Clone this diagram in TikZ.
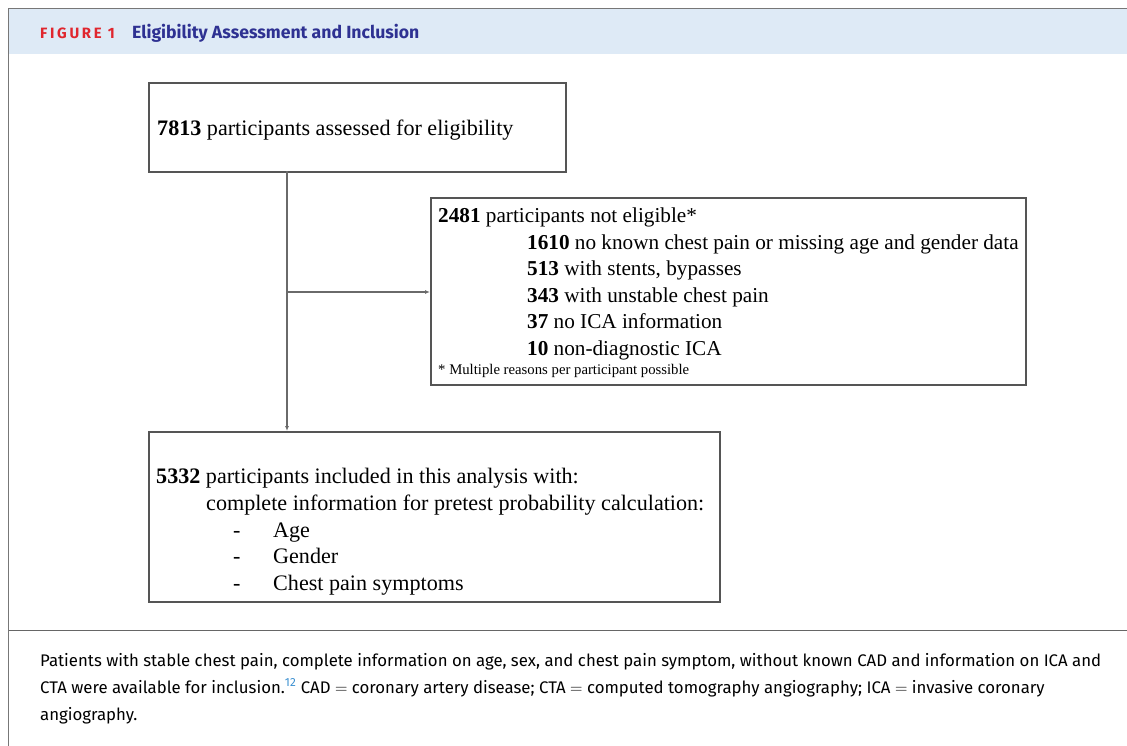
\documentclass[tikz,border=0pt]{standalone}
\usepackage{fontspec}
\setmainfont{Liberation Serif}
\newfontfamily\capfont{Fira Sans}
\newfontfamily\figfont{Fira Sans}[LetterSpace=18.0]
\usetikzlibrary{arrows.meta}
\definecolor{hdrbg}{HTML}{DEEAF6}
\definecolor{figred}{HTML}{E0262E}
\definecolor{figblue}{HTML}{2E3192}
\definecolor{boxline}{HTML}{555555}
\definecolor{conn}{HTML}{6A6A6A}
\definecolor{refblue}{HTML}{3A8FD0}
\tikzset{
  flowbox/.style={draw=boxline, line width=1.6bp, inner sep=0pt},
  txt/.style={anchor=base west, inner sep=0pt, font=\fontsize{22.2}{26}\selectfont},
  txtb/.style={anchor=base west, inner sep=0pt, font=\fontsize{21.3}{25}\selectfont},
  foot/.style={anchor=base west, inner sep=0pt, font=\fontsize{14.8}{17}\selectfont},
  captxt/.style={anchor=base west, inner sep=0pt, font=\capfont\fontsize{16.85}{20}\selectfont},
  link/.style={draw=conn, line width=1.3bp, -{Latex[length=5bp,width=4bp]}},
}
\begin{document}
\begin{tikzpicture}[x=1bp,y=-1bp]
\useasboundingbox (0,0) rectangle (1127,746);
% header band and frame
\fill[hdrbg] (9,9) rectangle (1127,54);
\draw[draw=boxline!80, line width=1.4bp] (8.5,746) -- (8.5,8.5) -- (1127,8.5);
\draw[draw=boxline!90, line width=1bp] (8.5,630.5) -- (1127,630.5);
\node[anchor=base west, inner sep=0pt, text=figred, font=\figfont\bfseries\fontsize{15}{18}\selectfont] (figlab) at (40,39) {FIGURE 1};
\node[anchor=base west, inner sep=0pt, text=figblue, font=\capfont\bfseries\fontsize{17.7}{20}\selectfont] (figtitle) at (132,39) {Eligibility Assessment and Inclusion};

% boxes
\node[flowbox, minimum width=417bp, minimum height=89bp, anchor=north west] (b1) at (148,82) {};
\node[flowbox, minimum width=595bp, minimum height=187bp, anchor=north west] (b2) at (430,197) {};
\node[flowbox, minimum width=571bp, minimum height=170bp, anchor=north west] (b3) at (148,431) {};

% box 1 text
\node[txt] (t1) at (157,135) {\textbf{7813} participants assessed for eligibility};

% box 2 text
\node[txtb] (t2a) at (438,222) {\textbf{2481} participants not eligible*};
\node[txtb] (t2b) at (527,249) {\textbf{1610} no known chest pain or missing age and gender data};
\node[txtb] (t2c) at (527,275) {\textbf{513} with stents, bypasses};
\node[txtb] (t2d) at (527,302) {\textbf{343} with unstable chest pain};
\node[txtb] (t2e) at (527,328) {\textbf{37} no ICA information};
\node[txtb] (t2f) at (527,355) {\textbf{10} non-diagnostic ICA};
\node[foot] (t2g) at (438,374) {* Multiple reasons per participant possible};

% box 3 text
\node[txt] (t3a) at (156,483) {\textbf{5332} participants included in this analysis with:};
\node[txt] (t3b) at (206,510) {complete information for pretest probability calculation:};
\node[txt] (d1) at (233,537) {-};
\node[txt] (t3c) at (273,537) {Age};
\node[txt] (d2) at (233,563) {-};
\node[txt] (t3d) at (273,563) {Gender};
\node[txt] (d3) at (233,590) {-};
\node[txt] (t3e) at (273,590) {Chest pain symptoms};

% connectors
\coordinate (top) at (287,171);
\coordinate (branch) at (287,292);
\draw[link] (top) -- (top |- b3.north);
\draw[link] (branch) -- (branch -| b2.west);

% caption
\node[captxt] (c1) at (40,666) {Patients with stable chest pain, complete information on age, sex, and chest pain symptom, without known CAD and information on ICA and};
\node[captxt] (c2) at (40,693) {CTA were available for inclusion.\textsuperscript{\textcolor{refblue}{12}} CAD $=$ coronary artery disease; CTA $=$ computed tomography angiography; ICA $=$ invasive coronary};
\node[captxt] (c3) at (40,720) {angiography.};
\end{tikzpicture}
\end{document}
